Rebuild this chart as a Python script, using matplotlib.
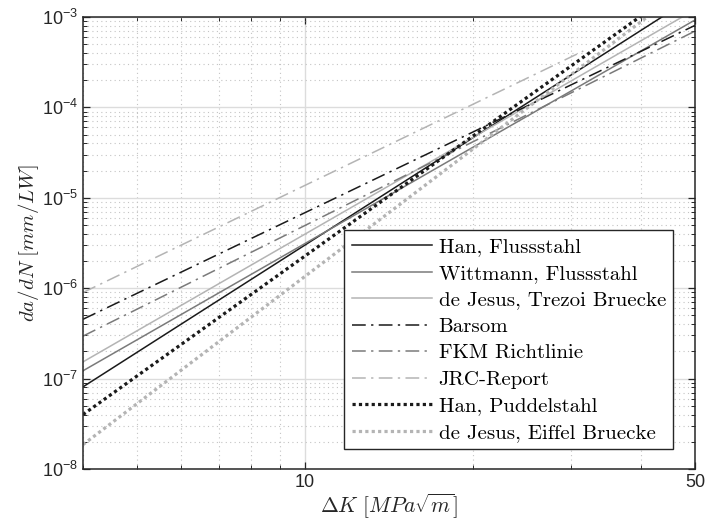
import matplotlib
matplotlib.use("Agg")
import matplotlib.pyplot as plt
import matplotlib.ticker as mticker

plt.rcParams.update({
    "font.family": "Liberation Sans",
    "mathtext.fontset": "custom",
    "mathtext.rm": "Liberation Sans",
    "mathtext.it": "Liberation Sans:italic",
    "mathtext.bf": "Liberation Sans:bold",
})

# Paris-law curves: rate at the start / end of each line
names = ["Han, Flussstahl", "Wittmann, Flussstahl", "de Jesus, Trezoi Bruecke",
         "Barsom", "FKM Richtlinie", "JRC-Report",
         "Han, Puddelstahl", "de Jesus, Eiffel Bruecke"]
dk_start = [4, 4, 4, 4, 4, 4, 4, 4]
dk_end = [50, 50, 50, 50, 50, 31.5, 50, 50]
rate_start = [8.1e-8, 1.22e-7, 1.53e-7, 4.53e-7, 2.95e-7, 8.95e-7, 4.0e-8, 1.86e-8]
rate_end = [1.72e-3, 9.3e-4, 1.21e-3, 8.1e-4, 7.0e-4, 4.2e-4, 2.75e-3, 2.53e-3]

DASHDOT = (0, (9, 3.5, 1.5, 3.5))
DOT = (0, (1, 1))
styles = [
    dict(color="#1a1a1a", ls="-", lw=1.1),
    dict(color="#7a7a7a", ls="-", lw=1.1),
    dict(color="#b4b4b4", ls="-", lw=1.1),
    dict(color="#1a1a1a", ls=DASHDOT, lw=1.1),
    dict(color="#7a7a7a", ls=DASHDOT, lw=1.1),
    dict(color="#b4b4b4", ls=DASHDOT, lw=1.1),
    dict(color="#1a1a1a", ls=DOT, lw=2.3),
    dict(color="#b4b4b4", ls=DOT, lw=2.3),
]

fig = plt.figure(figsize=(7.07, 5.24), dpi=100)
ax = fig.add_axes([0.1174, 0.105, 0.866, 0.8626])

for i, name in enumerate(names):
    ax.plot([dk_start[i], dk_end[i]], [rate_start[i], rate_end[i]], label=name,
            **styles[i])

ax.set_xscale("log"); ax.set_yscale("log")
ax.set_xlim(4, 50); ax.set_ylim(1e-8, 1e-3)

ax.xaxis.set_major_locator(mticker.FixedLocator([10, 50]))
ax.xaxis.set_major_formatter(mticker.FixedFormatter(["10", "50"]))
ax.xaxis.set_minor_locator(mticker.FixedLocator([4, 5, 6, 7, 8, 9, 20, 30, 40]))
ax.xaxis.set_minor_formatter(mticker.NullFormatter())
ax.yaxis.set_major_locator(mticker.LogLocator(base=10, numticks=10))
ax.yaxis.set_minor_locator(mticker.LogLocator(base=10, subs=range(2, 10), numticks=20))
ax.yaxis.set_minor_formatter(mticker.NullFormatter())

ax.grid(True, which="major", color="#dcdcdc", lw=1.0, ls="-")
ax.grid(True, which="minor", color="#c4c4c4", lw=0.8, ls=(0, (1, 3)))
ax.set_axisbelow(True)

ax.tick_params(which="both", direction="in", top=True, right=True, color="#262626",
               labelsize=13, labelcolor="#262626")
ax.tick_params(which="major", length=5, width=0.9)
ax.tick_params(which="minor", length=3, width=0.7)
for s in ax.spines.values():
    s.set_linewidth(1.1); s.set_color("#262626")

xl = ax.set_xlabel(r"$\Delta K\ [MPa\sqrt{m}]$", fontsize=15.5, color="#262626", labelpad=1)
yl = ax.set_ylabel(r"$da/dN\ [mm/LW]$", fontsize=15, color="#262626", labelpad=1)
xl.set_math_fontfamily("cm"); yl.set_math_fontfamily("cm")

leg = ax.legend(loc="lower right", bbox_to_anchor=(0.964, 0.044), borderaxespad=0,
                prop=dict(family="cmr10", size=15), fancybox=False, framealpha=1,
                edgecolor="#262626", handlelength=3.85, handletextpad=0.32,
                labelspacing=0.38, borderpad=0.35)
leg.get_frame().set_linewidth(1.0)

fig.savefig("out.png", dpi=100)
